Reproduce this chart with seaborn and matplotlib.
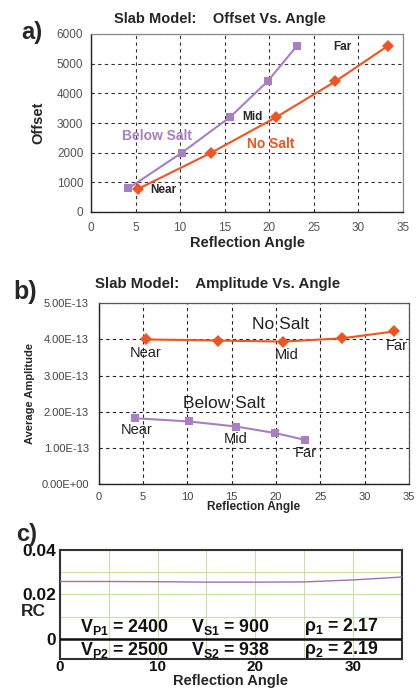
import matplotlib
matplotlib.use("Agg")
import matplotlib.pyplot as plt
import seaborn as sns
import pandas as pd
import numpy as np

# ---------------- data ----------------
# Panel a: Offset vs angle
below_angle_a = [4.2, 10.2, 15.6, 19.8, 23.1]
below_offset = [800, 2000, 3200, 4400, 5600]
nosalt_angle_a = [5.3, 13.5, 20.8, 27.4, 33.3]
nosalt_offset = [780, 2000, 3200, 4400, 5600]

# Panel b: Amplitude vs angle
nosalt_angle_b = [5.3, 13.5, 20.8, 27.4, 33.3]
nosalt_amp = [4.00e-13, 3.97e-13, 3.94e-13, 4.03e-13, 4.22e-13]
below_angle_b = [4.1, 10.2, 15.5, 19.9, 23.3]
below_amp = [1.82e-13, 1.73e-13, 1.59e-13, 1.41e-13, 1.22e-13]

# Panel c: reflection coefficient vs angle
rc_angle = [0, 5, 10, 15, 20, 25, 30, 35]
rc_value = [0.0258, 0.0258, 0.0257, 0.0255, 0.0255, 0.0256, 0.0265, 0.0278]

a_xticks = [0, 5, 10, 15, 20, 25, 30, 35]
a_yticks = [0, 1000, 2000, 3000, 4000, 5000, 6000]
b_yticks = [0, 1e-13, 2e-13, 3e-13, 4e-13, 5e-13]
b_yticklabels = ["0.00E+00", "1.00E-13", "2.00E-13", "3.00E-13", "4.00E-13", "5.00E-13"]
c_xticklabels = ["0", "", "10", "", "20", "", "30", ""]
c_yticks = [0, 0.01, 0.02, 0.03, 0.04]
c_yticklabels = ["0", "", "0.02", "", "0.04"]

PURPLE = "#a77fc2"
ORANGE = "#ee5522"

sns.set_theme(style="white")
plt.rcParams["font.family"] = ["Liberation Sans", "DejaVu Sans"]
plt.rcParams["mathtext.fontset"] = "custom"
plt.rcParams["mathtext.rm"] = "Liberation Sans:bold"
plt.rcParams["mathtext.it"] = "Liberation Sans:bold"
plt.rcParams["mathtext.bf"] = "Liberation Sans:bold"
plt.rcParams["mathtext.default"] = "rm"

W, H = 420, 694
fig = plt.figure(figsize=(W / 100, H / 100), dpi=100)


def axrect(l, r, t, b):
    return [l / W, 1 - b / H, (r - l) / W, (b - t) / H]


# ---------------- panel a ----------------
axa = fig.add_axes(axrect(91, 403, 34, 212))
sns.lineplot(x=below_angle_a, y=below_offset, ax=axa, color=PURPLE, lw=1.5,
             marker="s", markersize=6, markeredgewidth=0, zorder=3)
sns.lineplot(x=nosalt_angle_a, y=nosalt_offset, ax=axa, color=ORANGE, lw=1.5,
             marker="D", markersize=6, markeredgewidth=0, zorder=3)
axa.set_xlim(0, 35)
axa.set_ylim(0, 6000)
axa.set_xticks(a_xticks)
axa.set_yticks(a_yticks)
axa.tick_params(axis="both", direction="inout", length=5, width=0.8, color="#333333",
                labelsize=8.5, labelcolor="#555555", pad=3)
axa.tick_params(axis="x", pad=5)
axa.grid(True, ls=(0, (3, 3)), color="#333333", lw=0.8)
for s in ["left", "bottom"]:
    axa.spines[s].set_color("#222222")
    axa.spines[s].set_linewidth(1.0)
for s in ["top", "right"]:
    axa.spines[s].set_color("#888888")
    axa.spines[s].set_linewidth(0.9)
axa.set_xlabel("Reflection Angle", fontsize=10.5, fontweight="bold", labelpad=1)
axa.set_ylabel("Offset", fontsize=10.5, fontweight="bold", labelpad=8)
axa.text(28.2, 5570, "Far", fontsize=8.5, fontweight="bold", ha="center", va="center")
axa.text(18.1, 3200, "Mid", fontsize=8.5, fontweight="bold", ha="center", va="center")
axa.text(8.1, 740, "Near", fontsize=8.5, fontweight="bold", ha="center", va="center")
axa.text(7.4, 2560, "Below Salt", fontsize=10, fontweight="bold", color=PURPLE, ha="center", va="center")
axa.text(20.2, 2290, "No Salt", fontsize=10, fontweight="bold", color=ORANGE, ha="center", va="center")
fig.text(220 / W, 1 - 19 / H, "Slab Model:    Offset Vs. Angle", fontsize=10.5,
         fontweight="bold", ha="center", va="center")
fig.text(32 / W, 1 - 33 / H, "a)", fontsize=17, fontweight="bold", ha="center", va="center")

# ---------------- panel b ----------------
axb = fig.add_axes(axrect(98.7, 409, 303.3, 484))
sns.lineplot(x=nosalt_angle_b, y=nosalt_amp, ax=axb, color=ORANGE, lw=1.5,
             marker="D", markersize=6, markeredgewidth=0, zorder=3)
sns.lineplot(x=below_angle_b, y=below_amp, ax=axb, color=PURPLE, lw=1.5,
             marker="s", markersize=6, markeredgewidth=0, zorder=3)
axb.set_xlim(0, 35)
axb.set_ylim(0, 5e-13)
axb.set_xticks(a_xticks)
axb.set_yticks(b_yticks)
axb.set_yticklabels(b_yticklabels)
axb.tick_params(axis="both", direction="inout", length=6, width=0.8, color="#222222",
                labelsize=8, labelcolor="#444444", pad=4)
axb.tick_params(axis="x", pad=3)
axb.grid(True, ls=(0, (3, 3)), color="#222222", lw=0.8)
for s in ["left", "bottom"]:
    axb.spines[s].set_color("#222222")
    axb.spines[s].set_linewidth(1.0)
for s in ["top", "right"]:
    axb.spines[s].set_color("#555555")
    axb.spines[s].set_linewidth(0.9)
axb.set_xlabel("Reflection Angle", fontsize=8.5, fontweight="bold", labelpad=-1)
axb.set_ylabel("Average Amplitude", fontsize=8, fontweight="bold", labelpad=5)
axb.text(20.5, 4.42e-13, "No Salt", fontsize=12.5, ha="center", va="center", color="#222222")
axb.text(5.3, 3.63e-13, "Near", fontsize=10.5, ha="center", va="center", color="#222222")
axb.text(21.2, 3.56e-13, "Mid", fontsize=10.5, ha="center", va="center", color="#222222")
axb.text(33.6, 3.81e-13, "Far", fontsize=10.5, ha="center", va="center", color="#222222")
axb.text(14.1, 2.24e-13, "Below Salt", fontsize=12.5, ha="center", va="center", color="#222222")
axb.text(4.3, 1.50e-13, "Near", fontsize=10.5, ha="center", va="center", color="#222222")
axb.text(15.4, 1.24e-13, "Mid", fontsize=10.5, ha="center", va="center", color="#222222")
axb.text(23.4, 0.85e-13, "Far", fontsize=10.5, ha="center", va="center", color="#222222")
fig.text(218 / W, 1 - 284 / H, "Slab Model:    Amplitude Vs. Angle", fontsize=10.8,
         fontweight="bold", ha="center", va="center")
fig.text(25 / W, 1 - 292 / H, "b)", fontsize=18, fontweight="bold", ha="center", va="center")

# ---------------- panel c ----------------
axc = fig.add_axes(axrect(60, 401.7, 550, 659.3))
sns.lineplot(x=rc_angle, y=rc_value, ax=axc, color="#a070b8", lw=1.0, zorder=3)
axc.set_xlim(0, 35)
axc.set_ylim(-0.0093, 0.04)
axc.set_xticks(a_xticks)
axc.set_xticklabels(c_xticklabels)
axc.set_yticks(c_yticks)
axc.set_yticklabels(c_yticklabels)
axc.tick_params(axis="y", length=0, labelsize=12.5, labelcolor="#111111", pad=3)
axc.tick_params(axis="x", length=0, labelsize=11, labelcolor="#111111", pad=0.5)
for lab in axc.get_xticklabels() + axc.get_yticklabels():
    lab.set_fontweight("bold")
axc.grid(True, color="#c6e2a8", lw=0.8)
for s in axc.spines.values():
    s.set_color("#333333")
    s.set_linewidth(1.5)
axc.axhline(0, color="#111111", lw=1.8, zorder=4)
axc.set_xlabel("Reflection Angle", fontsize=10.5, fontweight="bold", labelpad=0)
fig.text(33 / W, 1 - 612 / H, "RC", fontsize=12.5, fontweight="bold", ha="center", va="center")
row1 = ["V$_{P1}$ = 2400", "V$_{S1}$ = 900", "ρ$_1$ = 2.17"]
row2 = ["V$_{P2}$ = 2500", "V$_{S2}$ = 938", "ρ$_2$ = 2.19"]
xs = [6.6, 17.5, 28.8]
for x, t1, t2 in zip(xs, row1, row2):
    axc.text(x, 0.0054, t1, fontsize=12.8, fontweight="bold", ha="center", va="center",
             color="#111111", zorder=5)
    axc.text(x, -0.0050, t2, fontsize=12.8, fontweight="bold", ha="center", va="center",
             color="#111111", zorder=5)
fig.text(27 / W, 1 - 534 / H, "c)", fontsize=17, fontweight="bold", ha="center", va="center")

fig.savefig("out.png", dpi=100)
